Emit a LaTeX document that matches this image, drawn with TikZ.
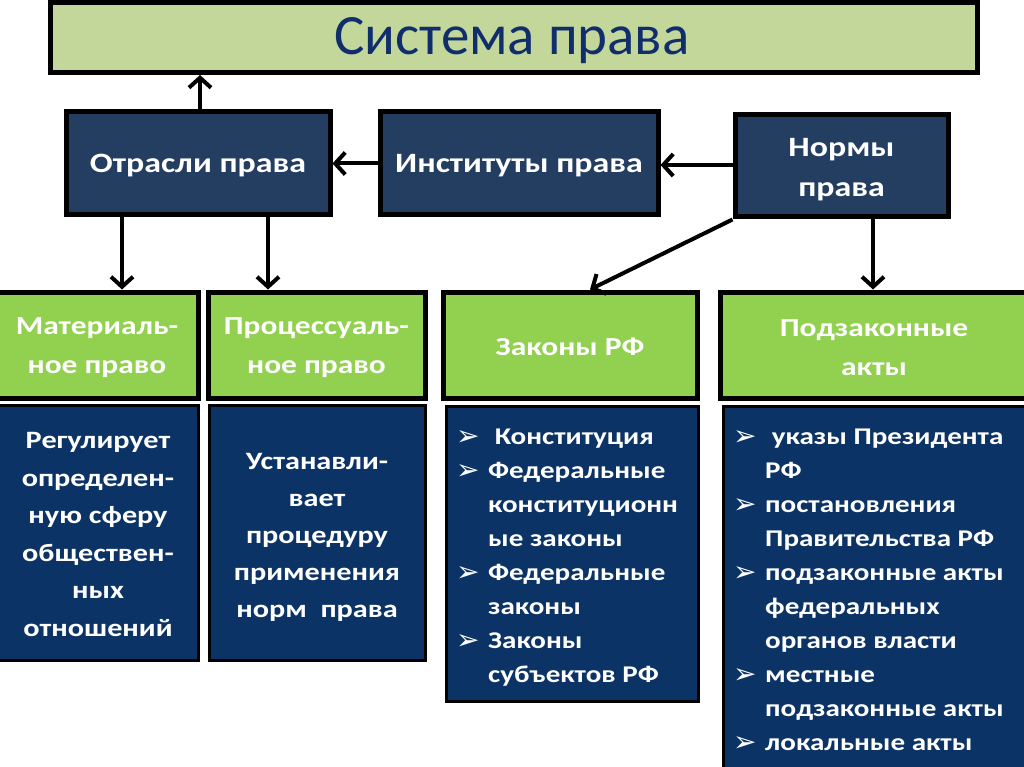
\documentclass[tikz,border=0pt]{standalone}
\usepackage{fontspec}
\setmainfont{Carlito}[FakeStretch=1.21]
\newfontfamily\titlefont{Carlito}
\newfontfamily\djv{DejaVu Sans}
\usetikzlibrary{arrows.meta}
\definecolor{titlefill}{HTML}{C4D79B}
\definecolor{titletext}{HTML}{112E6C}
\definecolor{topfill}{HTML}{243E62}
\definecolor{greenfill}{HTML}{92D050}
\definecolor{bluefill}{HTML}{0C3366}
\newcommand{\bul}{\makebox[32pt][l]{\raisebox{-1pt}{\djv\fontsize{28}{28}\selectfont ➢}}}
\newcommand{\ind}{\hspace*{32pt}}
\tikzset{
  titlebox/.style={draw=black,line width=5pt,fill=titlefill,minimum width=927pt,minimum height=70pt,inner sep=0pt},
  topbox/.style={draw=black,line width=5pt,fill=topfill,inner sep=0pt},
  toptext/.style={text=white,font=\bfseries\fontsize{28}{40}\selectfont,inner sep=0pt,align=center},
  greenbox/.style={draw=black,line width=5pt,fill=greenfill,text=white,font=\bfseries\fontsize{26}{39}\selectfont,inner sep=0pt,align=center},
  bluebox/.style={draw=black,line width=3pt,fill=bluefill,inner sep=0pt},
  bluetext/.style={text=white,inner sep=0pt,align=center,font=\bfseries\fontsize{25}{37.6}\selectfont},
  listtext/.style={text=white,anchor=north west,align=left,inner sep=0pt,font=\bfseries\fontsize{24}{34}\selectfont},
  arr/.style={line width=4pt,-{Straight Barb[length=10pt,width=22pt]}},
}
\begin{document}
\begin{tikzpicture}[x=1pt,y=-1pt]
\useasboundingbox (0,0) rectangle (1024,767);
% title
\node[titlebox,anchor=north west] (sys) at (48,0) {};
\node[text=titletext,font=\titlefont\fontsize{57}{60}\selectfont,anchor=base] (systxt) at (512,55) {Система права};
% top row
\node[topbox,minimum width=264pt,minimum height=103pt] (otr) at (198,163.5) {};
\node[toptext] (otrtxt) at (198,166) {Отрасли права};
\node[topbox,minimum width=278pt,minimum height=103pt] (inst) at (519,163.5) {};
\node[toptext] (insttxt) at (519,166) {Институты права};
\node[topbox,minimum width=213pt,minimum height=102pt] (norm) at (841.5,166) {};
\node[toptext] (normtxt) at (841.5,170) {Нормы\\права};
% green row
\node[greenbox,minimum width=202pt,minimum height=106pt] (mat) at (97,345) {};
\node[greenbox,draw=none,fill=none] (mattxt) at (97,348) {Материаль-\\ное право};
\node[greenbox,minimum width=217pt,minimum height=106pt] (proc) at (316.5,345) {};
\node[greenbox,draw=none,fill=none] (proctxt) at (316.5,348) {Процессуаль-\\ное право};
\node[greenbox,minimum width=254pt,minimum height=106pt] (zak) at (570,345) {};
\node[greenbox,draw=none,fill=none] (zaktxt) at (570,347) {Законы РФ};
\node[greenbox,minimum width=310pt,minimum height=106pt] (podz) at (875,345) {};
\node[greenbox,draw=none,fill=none] (podztxt) at (874,348) {Подзаконные\\акты};
% blue row
\node[bluebox,minimum width=200pt,minimum height=255pt] (b1) at (98,532.5) {};
\node[bluetext] (b1txt) at (98,534.5)
  {Регулирует\\определен-\\ную сферу\\обществен-\\ных\\отношений};
\node[bluebox,minimum width=216pt,minimum height=255pt] (b2) at (317,532.5) {};
\node[bluetext,font=\bfseries\fontsize{25}{37}\selectfont] (b2txt) at (317,537.5)
  {Устанавли-\\вает\\процедуру\\применения\\норм\ \ права};
\node[bluebox,minimum width=252pt,minimum height=295pt,anchor=north west] (b3) at (445,405) {};
\node[bluebox,minimum width=310pt,minimum height=370pt,anchor=north west] (b4) at (722,405) {};
\node[listtext] (t3) at (456,429)
  {\bul\ Конституция\\\bul Федеральные\\\ind конституционн\\\ind ые законы\\\bul Федеральные\\\ind законы\\\bul Законы\\\ind субъектов РФ};
\node[listtext] (t4) at (733,429)
  {\bul\ указы Президента\\\ind РФ\\\bul постановления\\\ind Правительства РФ\\\bul подзаконные акты\\\ind федеральных\\\ind органов власти\\\bul местные\\\ind подзаконные акты\\\bul локальные акты};
% arrows
\draw[arr] (otr.north -| 200,0) -- (sys.south -| 200,0);
\draw[arr] (inst.west) -- (otr.east);
\draw[arr] (norm.west |- 0,165) -- (inst.east |- 0,165);
\draw[arr] (otr.south -| 122,0) -- (mat.north -| 122,0);
\draw[arr] (otr.south -| 268,0) -- (proc.north -| 268,0);
\draw[arr] (norm.south west) -- (zak.north -| 590,0);
\draw[arr] (norm.south -| 873,0) -- (podz.north -| 873,0);
\end{tikzpicture}
\end{document}
